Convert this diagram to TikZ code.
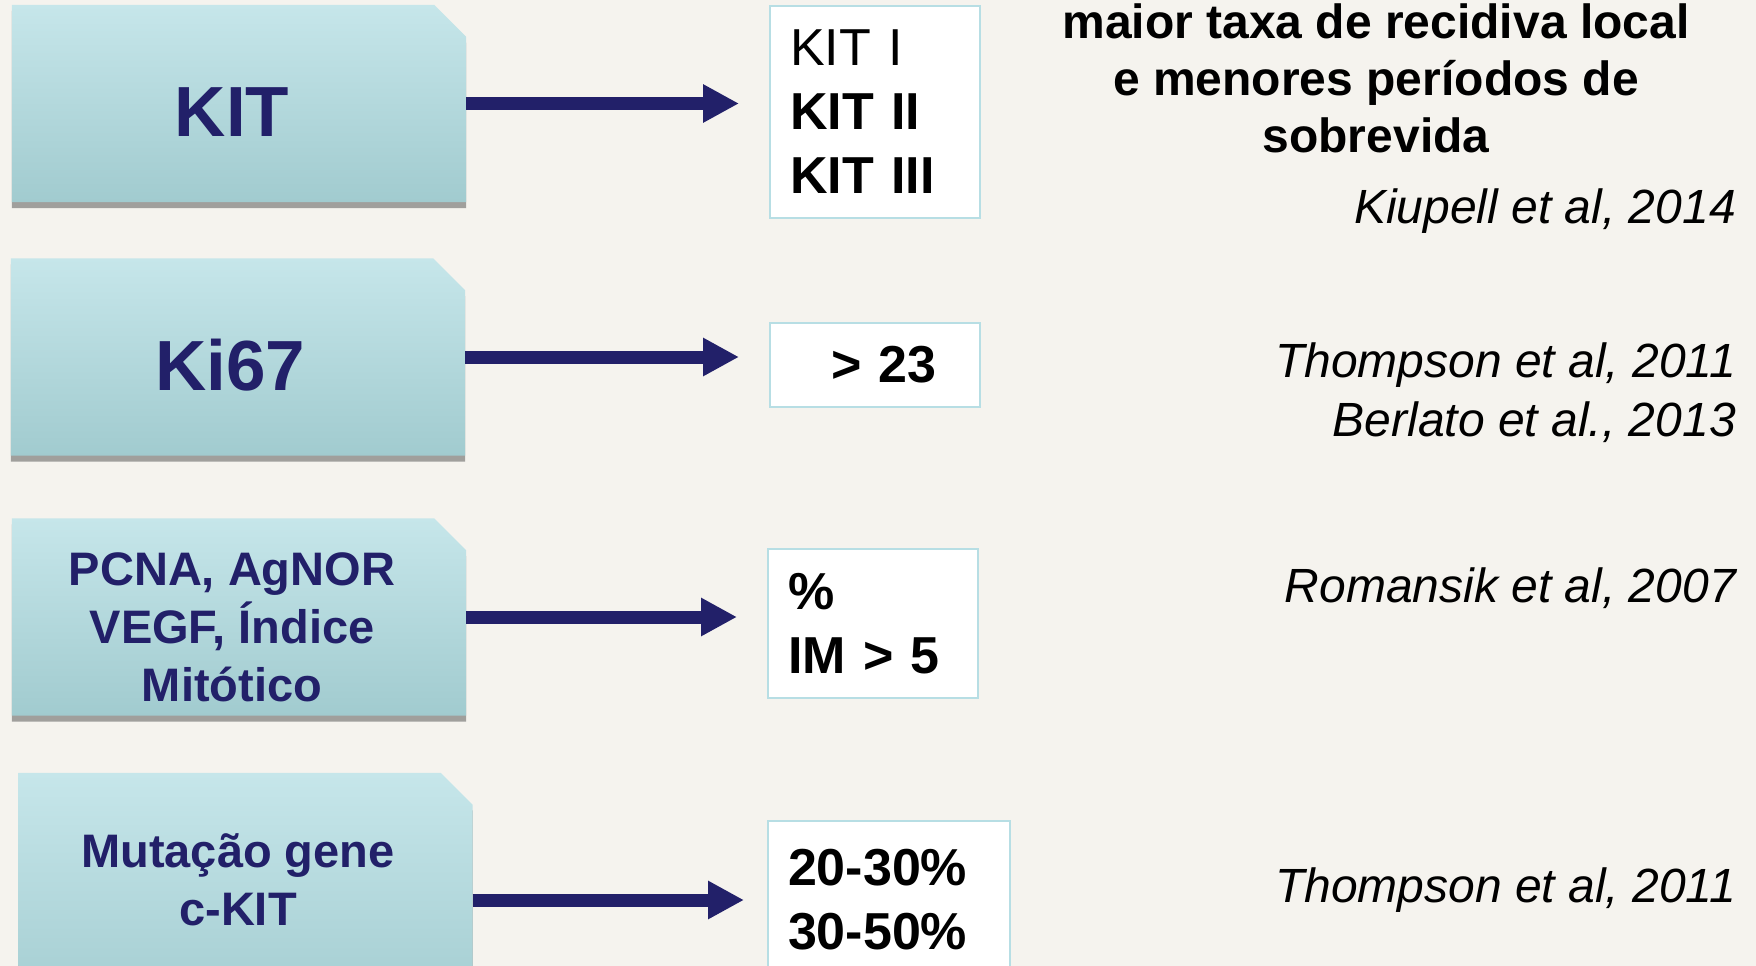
\documentclass[tikz,border=0pt]{standalone}
\usepackage{fontspec}
\setmainfont{Liberation Sans}
\usetikzlibrary{shadows,arrows.meta}
\definecolor{paper}{RGB}{245,243,238}
\definecolor{tagtop}{RGB}{198,230,234}
\definecolor{tagbottom}{RGB}{161,203,207}
\definecolor{navy}{RGB}{34,32,105}
\definecolor{frame}{RGB}{183,222,228}

\tikzset{
  tagslot/.style={rectangle, inner sep=0pt, minimum width=454pt, minimum height=197pt},
  tagfill/.style={top color=tagtop, bottom color=tagbottom,
    drop shadow={shadow xshift=0pt, shadow yshift=-6pt, opacity=0.5, fill=black!70}},
  tagtext/.style={text=navy, font=\bfseries\fontsize{47}{58}\selectfont, align=center, inner sep=0pt},
  valbox/.style={draw=frame, line width=2pt, fill=white, inner xsep=20pt, inner ysep=0pt,
    align=left, font=\bfseries\fontsize{52}{64}\selectfont, text width=170pt, minimum width=210pt},
  ref/.style={anchor=base east, inner sep=0pt, font=\itshape\fontsize{48}{57}\selectfont},
  link/.style={navy, line width=13pt, -{Triangle[length=36pt,width=36pt]}, shorten >=30pt}
}
\def\cut{32pt}

\begin{document}
\begin{tikzpicture}[x=1pt,y=-1pt]
  % page: 1 unit = 1 pixel of the slide, y runs downwards
  \useasboundingbox (0,0) rectangle (1756,966);
  \fill[paper] (0,0) rectangle (1756,966);

  % KIT
  \node[tagslot] (kit) at (239,103.5) {};
  \shade[tagfill] (kit.south west) -- (kit.north west) -- ([xshift=-\cut]kit.north east)
    -- ([yshift=-\cut]kit.north east) -- (kit.south east) -- cycle;
  \node[tagtext, font=\bfseries\fontsize{71}{71}\selectfont] (kitlbl) at (232,112) {KIT};
  \node[valbox, minimum height=212pt] (kitval) at (875,112) {{\mdseries KIT I}\\KIT II\\KIT III};
  \draw[link] (kit.east) -- (kit.east -| kitval.west);

  % Ki67
  \node[tagslot] (ki) at (238,357) {};
  \shade[tagfill] (ki.south west) -- (ki.north west) -- ([xshift=-\cut]ki.north east)
    -- ([yshift=-\cut]ki.north east) -- (ki.south east) -- cycle;
  \node[tagtext, font=\bfseries\fontsize{71}{71}\selectfont] (kilbl) at (230,365) {Ki67};
  \node[valbox, minimum height=84pt] (kival) at (875,365) {\hspace*{41pt}> 23};
  \draw[link] (ki.east) -- (ki.east -| kival.west);

  % PCNA, AgNOR, VEGF, mitotic index
  \node[tagslot] (pcna) at (239,617) {};
  \shade[tagfill] (pcna.south west) -- (pcna.north west) -- ([xshift=-\cut]pcna.north east)
    -- ([yshift=-\cut]pcna.north east) -- (pcna.south east) -- cycle;
  \node[tagtext] (pcnalbl) at (232,627) {PCNA, AgNOR\\VEGF, Índice\\Mitótico};
  \node[valbox, minimum height=149pt] (pcnaval) at (873,623.5) {\%\\IM > 5};
  \draw[link] (pcna.east) -- (pcna.east -| pcnaval.west);

  % c-KIT mutation (runs off the bottom of the slide)
  \node[tagslot, minimum height=254pt] (ckit) at (245.5,900) {};
  \shade[tagfill] (ckit.south west) -- (ckit.north west) -- ([xshift=-\cut]ckit.north east)
    -- ([yshift=-\cut]ckit.north east) -- (ckit.south east) -- cycle;
  \node[tagtext] (ckitlbl) at (238,880) {Mutação gene\\c-KIT};
  \node[valbox, minimum height=158pt, text width=202pt, minimum width=242pt] (ckitval) at (889,900) {20-30\%\\30-50\%};
  \draw[link, shorten >=23pt] (ckit.east) -- (ckit.east -| ckitval.west);

  % findings and references
  \node[font=\bfseries\fontsize{48}{57}\selectfont, align=center, inner sep=0pt] (finding) at (1376,78.5)
    {maior taxa de recidiva local\\e menores períodos de\\sobrevida};
  \node[ref] (kiupell) at (1736,223) {Kiupell et al, 2014};
  \node[ref] (thompsona) at (1736,377) {Thompson et al, 2011};
  \node[ref] (berlato) at (1736,436) {Berlato et al., 2013};
  \node[ref] (romansik) at (1736,602) {Romansik et al, 2007};
  \node[ref] (thompsonb) at (1736,902) {Thompson et al, 2011};

\end{tikzpicture}
\end{document}
